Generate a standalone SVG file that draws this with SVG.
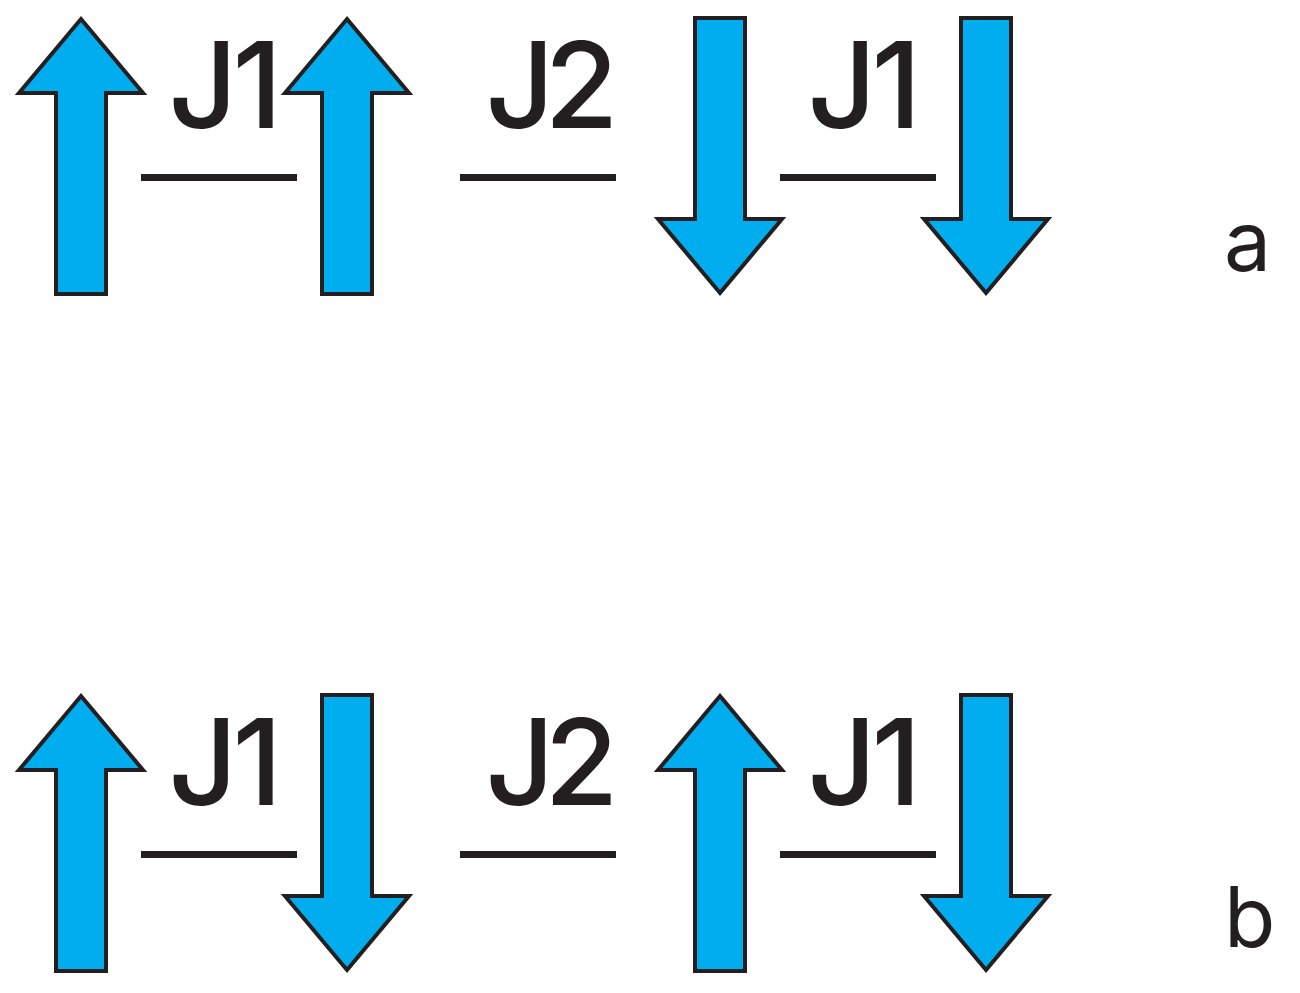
<svg xmlns="http://www.w3.org/2000/svg" width="1300" height="993" viewBox="0 0 1300 993">
<style>
.arrow{fill:#00aeef;stroke:#231f20;stroke-width:4;stroke-linejoin:miter;stroke-miterlimit:10}
.bond{stroke:#231f20;stroke-width:7;fill:none}
.lbl{font-family:Inter,"Liberation Sans",Arial,sans-serif;font-size:120px;font-weight:500;fill:#231f20;text-anchor:middle;letter-spacing:-5px}
.j2{letter-spacing:-10px}
.tag{font-family:Inter,"Liberation Sans",Arial,sans-serif;font-size:84px;fill:#231f20}
</style>
<defs>
<path id="up" class="arrow" d="M0,-137 L62,-63 L25,-63 L25,138 L-25,138 L-25,-63 L-62,-63 Z"/>
<path id="down" class="arrow" d="M0,137 L62,63 L25,63 L25,-138 L-25,-138 L-25,63 L-62,63 Z"/>
</defs>
<rect width="1300" height="993" fill="#ffffff"/>
<g id="row-a">
<g id="a-spin1"><use href="#up" x="81" y="156"/></g>
<g id="a-spin2"><use href="#up" x="347" y="156"/></g>
<g id="a-spin3"><use href="#down" x="720" y="156"/></g>
<g id="a-spin4"><use href="#down" x="986" y="156"/></g>
<g id="a-label"><text class="tag" x="1224" y="271">a</text></g>
</g>
<g id="row-b">
<g id="b-spin1"><use href="#up" x="81" y="833"/></g>
<g id="b-spin2"><use href="#down" x="347" y="833"/></g>
<g id="b-spin3"><use href="#up" x="720" y="833"/></g>
<g id="b-spin4"><use href="#down" x="986" y="833"/></g>
<g id="b-label"><text class="tag" x="1224" y="947">b</text></g>
</g>
<g id="connectors">
<line class="bond" x1="141" y1="177.5" x2="297" y2="177.5"/>
<line class="bond" x1="460" y1="177.5" x2="616" y2="177.5"/>
<line class="bond" x1="780" y1="177.5" x2="936" y2="177.5"/>
<line class="bond" x1="141" y1="854.5" x2="297" y2="854.5"/>
<line class="bond" x1="460" y1="854.5" x2="616" y2="854.5"/>
<line class="bond" x1="780" y1="854.5" x2="936" y2="854.5"/>
<text class="lbl" x="223" y="128">J1</text>
<text class="lbl j2" x="547" y="128">J2</text>
<text class="lbl" x="862" y="128">J1</text>
<text class="lbl" x="223" y="805">J1</text>
<text class="lbl j2" x="547" y="805">J2</text>
<text class="lbl" x="862" y="805">J1</text>
</g>
</svg>
